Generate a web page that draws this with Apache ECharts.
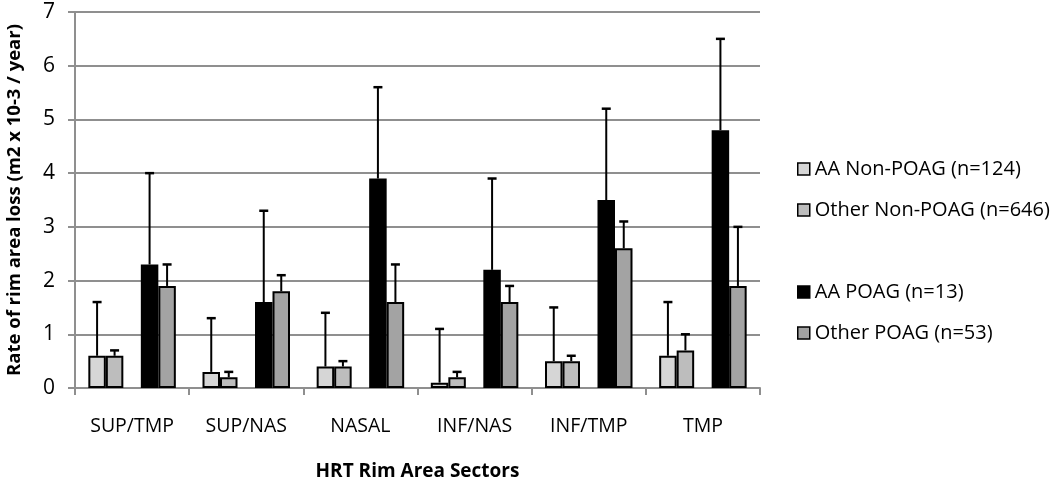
<!DOCTYPE html>
<html><head><meta charset="utf-8">
<script src="https://cdn.jsdelivr.net/npm/echarts@6/dist/echarts.min.js"></script>
<style>html,body{margin:0;padding:0;background:#fff}#c{width:1050px;height:483px}</style>
</head><body><div id="c"></div>
<script>
const categories = ['SUP/TMP','SUP/NAS','NASAL','INF/NAS','INF/TMP','TMP'];
const seriesNames = ['AA Non-POAG (n=124)','Other Non-POAG (n=646)','AA POAG (n=13)','Other POAG (n=53)'];
const aaNonPoag = [0.6,0.3,0.4,0.1,0.5,0.6];
const aaNonPoagErr = [1.6,1.3,1.4,1.1,1.5,1.6];
const otherNonPoag = [0.6,0.2,0.4,0.2,0.5,0.7];
const otherNonPoagErr = [0.7,0.3,0.5,0.3,0.6,1.0];
const aaPoag = [2.3,1.6,3.9,2.2,3.5,4.8];
const aaPoagErr = [4.0,3.3,5.6,3.9,5.2,6.5];
const otherPoag = [1.9,1.8,1.6,1.6,2.6,1.9];
const otherPoagErr = [2.3,2.1,2.3,1.9,3.1,3.0];
const yTicks = [0,1,2,3,4,5,6,7];

const colors = ['#d6d6d6','#bdbdbd','#000000','#a3a3a3'];
const FONT = 'Open Sans';
const BARW = 17.5;
const SLOTS = 5;

const values = [aaNonPoag, otherNonPoag, aaPoag, otherPoag];
const errs = [aaNonPoagErr, otherNonPoagErr, aaPoagErr, otherPoagErr];
const slotOf = [0,1,3,4];

const series = [];
function barSeries(i){
  return {
    name: seriesNames[i], type:'bar', data: values[i], barWidth: BARW, barGap:'0%',
    itemStyle:{color:colors[i], borderColor:'#000', borderWidth:2},
    emphasis:{disabled:true}, z:3
  };
}
series.push(barSeries(0));
series.push(barSeries(1));
series.push({name:'spacer', type:'bar', data: categories.map(()=>'-'), barWidth:BARW, barGap:'0%', itemStyle:{color:'transparent'}, silent:true});
series.push(barSeries(2));
series.push(barSeries(3));

for (let i=0;i<4;i++){
  const slot = slotOf[i];
  series.push({
    type:'custom', silent:true, z:2,
    data: categories.map((c,k)=>[k, values[i][k], errs[i][k]]),
    renderItem: function(params, api){
      const k = api.value(0);
      const base = api.coord([k, api.value(1)]);
      const top = api.coord([k, api.value(2)]);
      const x = base[0] - SLOTS*BARW/2 + BARW*(slot+0.5);
      const cap = 4.5;
      return {type:'group', children:[
        {type:'line', shape:{x1:x,y1:base[1],x2:x,y2:top[1]}, style:{stroke:'#000', lineWidth:2}},
        {type:'line', shape:{x1:x-cap,y1:top[1],x2:x+cap,y2:top[1]}, style:{stroke:'#000', lineWidth:2.5}}
      ]};
    }
  });
}

const legendCommon = {
  orient:'vertical', left:797, icon:'rect', itemWidth:12, itemHeight:12, itemGap:21, padding:0,
  textStyle:{fontFamily:FONT, fontSize:20, lineHeight:20, color:'#000'},
  itemStyle:{borderColor:'#000', borderWidth:1.5}, selectedMode:false
};

const chart = echarts.init(document.getElementById('c'), null, {renderer:'canvas'});
chart.setOption({
  animation:false,
  backgroundColor:'#fff',
  grid:{left:75, right:290, top:12, bottom:95, containLabel:false, outerBoundsMode:'none'},
  legend:[
    Object.assign({}, legendCommon, {top:159, data:[seriesNames[0], seriesNames[1]]}),
    Object.assign({}, legendCommon, {top:282, data:[seriesNames[2], seriesNames[3]]})
  ],
  xAxis:{
    type:'category', data:categories,
    axisLine:{lineStyle:{color:'#8f8f8f', width:2}},
    axisTick:{show:true, length:7, alignWithLabel:false, lineStyle:{color:'#8f8f8f', width:2}},
    axisLabel:{fontFamily:FONT, fontSize:19.5, color:'#000', margin:28},
    name:'HRT Rim Area Sectors', nameLocation:'middle', nameGap:74,
    nameTextStyle:{fontFamily:FONT, fontSize:19, fontWeight:'bold', color:'#000'}
  },
  yAxis:{
    type:'value', min:0, max:7, interval:1,
    axisLine:{show:true, lineStyle:{color:'#8f8f8f', width:2}},
    axisTick:{show:true, length:7, lineStyle:{color:'#8f8f8f', width:2}},
    splitLine:{show:true, lineStyle:{color:'#8f8f8f', width:2}},
    axisLabel:{fontFamily:FONT, fontSize:21, color:'#000', margin:20,
      formatter:(v)=> yTicks.includes(v) ? String(v) : ''},
    name:'Rate of rim area loss (m2 x 10-3 / year)', nameLocation:'middle', nameGap:51, nameRotate:90,
    nameTextStyle:{fontFamily:FONT, fontSize:18.5, fontWeight:'bold', color:'#000'}
  },
  series: series
});
</script></body></html>
